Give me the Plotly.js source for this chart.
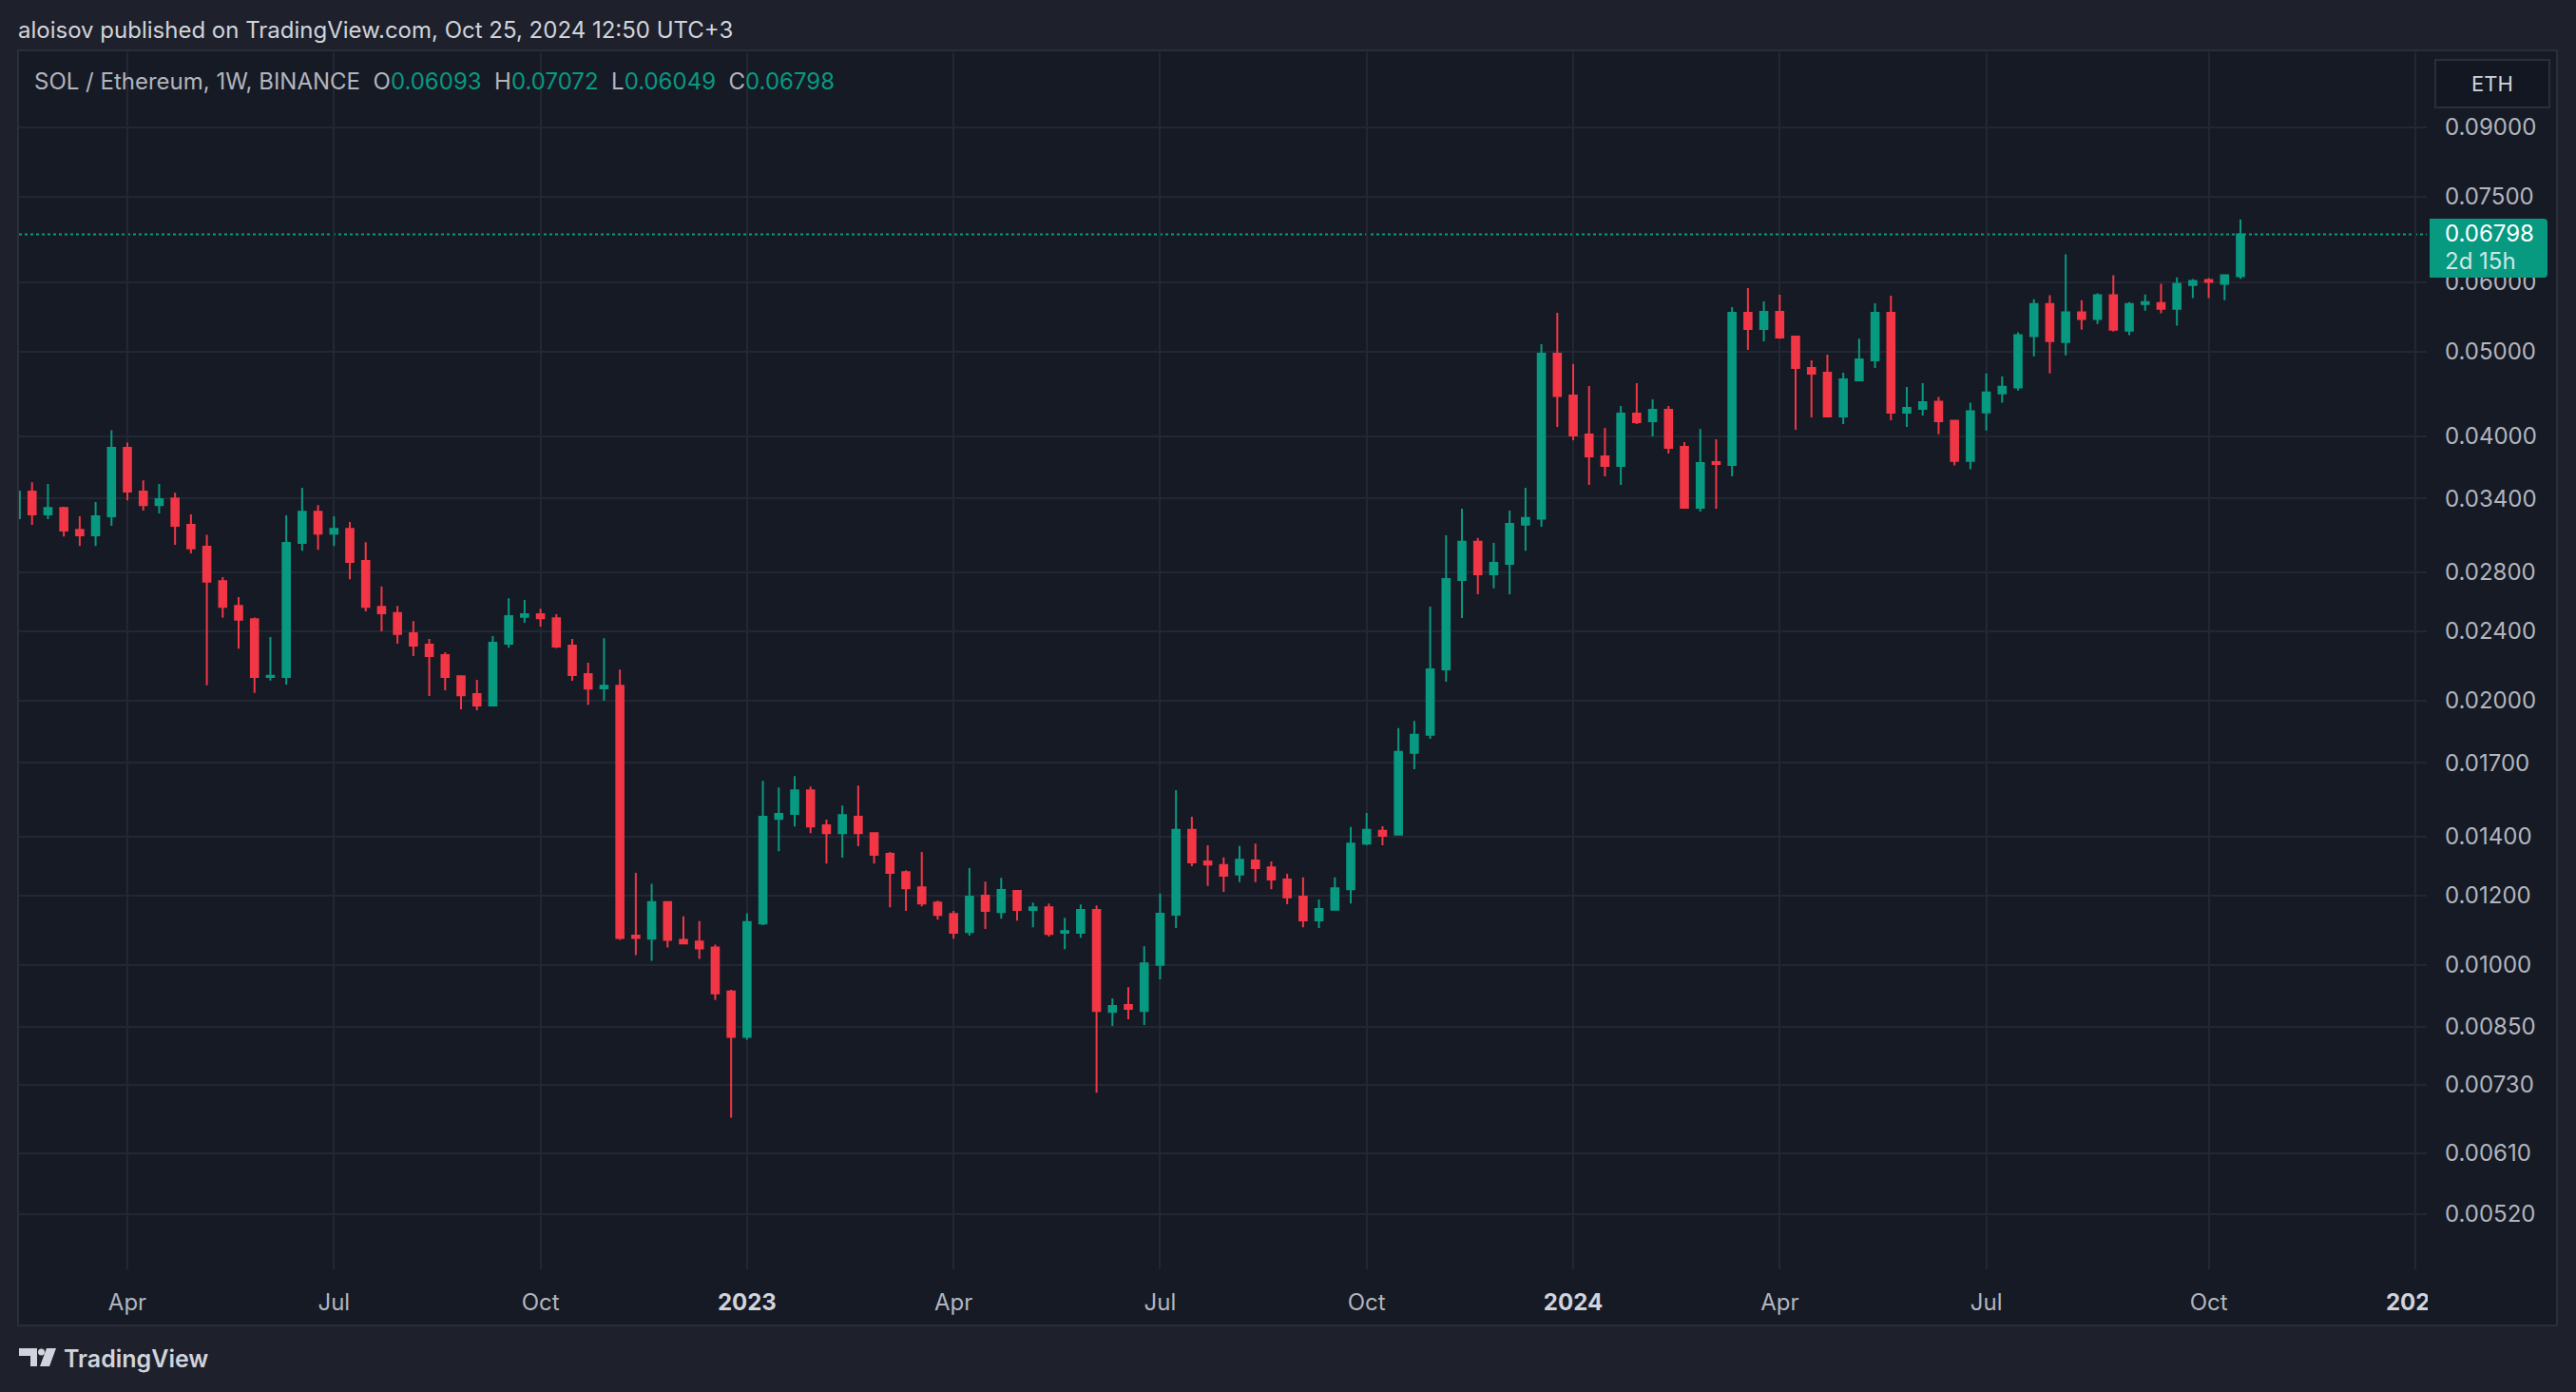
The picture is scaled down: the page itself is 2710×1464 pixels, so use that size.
<!DOCTYPE html>
<html><head><meta charset="utf-8">
<script src="https://cdn.plot.ly/plotly-3.0.1.min.js"></script>
<style>html,body{margin:0;padding:0;background:#1e212b;}#chart{width:2710px;height:1464px;}</style>
</head><body><div id="chart"></div>
<script>
// ---- data (weekly candles, SOL/ETH, BINANCE) ----
const firstWeek = '2022-02-14';
const openP = [0.03228,0.03461,0.0326,0.03317,0.03132,0.03086,0.03244,0.03882,0.03461,0.03342,
0.034,0.03172,0.02995,0.02737,0.02565,0.02477,0.02128,0.02128,0.03025,0.03284,
0.03101,0.0314,0.02885,0.02559,0.02518,0.02387,0.02317,0.02254,0.02133,0.02035,
0.01975,0.02322,0.02492,0.02509,0.02483,0.02311,0.02145,0.02066,0.0208,0.0108,
0.01071,0.01179,0.01068,0.01063,0.01047,0.00933,0.00828,0.01115,0.01467,0.01486,
0.01581,0.01442,0.01413,0.01475,0.01413,0.01338,0.01276,0.01226,0.01178,0.01143,
0.0109,0.01199,0.01149,0.01214,0.01155,0.01163,0.01088,0.01088,0.01155,0.00884,
0.009,0.00886,0.01,0.01141,0.01425,0.01312,0.013,0.01268,0.01315,0.01292,
0.01251,0.01196,0.01124,0.01156,0.0122,0.01375,0.01422,0.01408,0.01745,0.01829,
0.02171,0.02746,0.03036,0.02786,0.02865,0.03175,0.03225,0.04971,0.04454,0.04021,
0.03796,0.03704,0.04248,0.04164,0.04291,0.03893,0.03318,0.0374,0.03713,0.05534,
0.05304,0.05548,0.05199,0.04789,0.04729,0.04217,0.04635,0.04885,0.05534,0.04259,
0.04301,0.04381,0.04168,0.03753,0.04262,0.0448,0.04548,0.05204,0.05664,0.05126,
0.05539,0.05443,0.05793,0.05282,0.05664,0.05678,0.05594,0.05954,0.06029,0.05969,
0.06093];
const highP = [0.0350,0.03548,0.03531,0.03326,0.03244,0.03368,0.04067,0.03937,0.03566,0.03531,
0.03452,0.0326,0.03091,0.02765,0.02624,0.02488,0.02363,0.03252,0.03496,0.03342,
0.03244,0.03196,0.03032,0.02699,0.02565,0.02465,0.02352,0.02271,0.02133,0.02113,
0.02369,0.02617,0.02605,0.02546,0.02509,0.02352,0.02209,0.02356,0.0217,0.01273,
0.01237,0.0118,0.01136,0.01122,0.01055,0.00937,0.01145,0.01621,0.01593,0.01641,
0.01597,0.01464,0.01519,0.01601,0.01413,0.01345,0.01282,0.01345,0.01184,0.01152,
0.01289,0.01244,0.01257,0.01217,0.01178,0.01175,0.01132,0.01172,0.01169,0.00916,
0.00943,0.0105,0.01206,0.01582,0.01475,0.01369,0.01326,0.01366,0.01375,0.01312,
0.0127,0.01258,0.01187,0.01258,0.01436,0.0149,0.01439,0.01862,0.01897,0.0256,
0.03086,0.03311,0.03065,0.03025,0.03293,0.03497,0.05095,0.05534,0.04836,0.04567,
0.04092,0.04333,0.04601,0.0441,0.04333,0.03942,0.0408,0.03971,0.05617,0.05905,
0.05702,0.05803,0.05212,0.04885,0.04959,0.04729,0.0517,0.05674,0.05788,0.04556,
0.04601,0.04436,0.04168,0.0437,0.04721,0.04686,0.05256,0.05735,0.05793,0.06449,
0.05721,0.05822,0.06105,0.05692,0.05807,0.05969,0.06074,0.06044,0.06059,0.06105,
0.07072];
const lowP = [0.0320,0.03172,0.0322,0.03078,0.03002,0.03002,0.03164,0.03384,0.03293,0.03268,
0.0301,0.02943,0.02082,0.02486,0.02293,0.02041,0.02109,0.02086,0.02965,0.02972,
0.03002,0.02751,0.02528,0.024,0.02322,0.02248,0.02025,0.02055,0.01955,0.0195,
0.01975,0.02298,0.02454,0.02429,0.02295,0.02107,0.01979,0.02,0.01068,0.01026,
0.01011,0.01047,0.01058,0.01016,0.00912,0.0067,0.00822,0.0111,0.01348,0.01438,
0.01413,0.01305,0.01325,0.01365,0.01305,0.01163,0.01152,0.01166,0.01126,0.01071,
0.0108,0.01099,0.01129,0.01123,0.01104,0.01077,0.01042,0.01074,0.00715,0.00852,
0.00867,0.00854,0.00963,0.01102,0.01296,0.0123,0.01211,0.01243,0.01243,0.0122,
0.01173,0.01104,0.01102,0.01156,0.01175,0.01369,0.01369,0.01408,0.01671,0.0181,
0.02102,0.02484,0.02644,0.02686,0.02644,0.02965,0.03156,0.04102,0.03961,0.03523,
0.03603,0.03523,0.04133,0.04001,0.03825,0.03309,0.03285,0.03309,0.03603,0.05021,
0.05135,0.0517,0.04072,0.04206,0.04206,0.04133,0.04635,0.04789,0.04175,0.04102,
0.04227,0.04024,0.03707,0.0367,0.04065,0.0437,0.04514,0.04938,0.04721,0.0495,
0.05295,0.05375,0.05269,0.05217,0.05566,0.05525,0.05349,0.0575,0.0575,0.05721,
0.06049];
const closeP = [0.03461,0.0326,0.03317,0.03125,0.03086,0.03244,0.03882,0.03461,0.03342,0.03393,
0.03164,0.02983,0.02733,0.02559,0.02473,0.02128,0.02135,0.03025,0.03284,0.03101,
0.0314,0.02878,0.02559,0.02515,0.02383,0.02311,0.02248,0.02129,0.02029,0.01975,
0.02328,0.02497,0.02509,0.02483,0.02305,0.02139,0.02065,0.0208,0.01073,0.01073,
0.01179,0.01068,0.01058,0.01044,0.00928,0.00828,0.01119,0.01475,0.01486,0.01581,
0.01438,0.01413,0.01482,0.01413,0.01335,0.01273,0.01223,0.01175,0.0114,0.01088,
0.01196,0.01152,0.01217,0.01155,0.01163,0.01085,0.01093,0.01155,0.00886,0.00898,
0.00891,0.01004,0.01144,0.01425,0.01309,0.01301,0.01264,0.01318,0.01289,0.01251,
0.01194,0.01124,0.01158,0.01223,0.01375,0.01425,0.01403,0.01749,0.01829,0.02171,
0.02752,0.03036,0.02786,0.02871,0.03181,0.03231,0.04972,0.04447,0.04011,0.03796,
0.03704,0.04248,0.04154,0.04291,0.03883,0.03318,0.03731,0.03722,0.05534,0.05304,
0.05548,0.05186,0.04789,0.04717,0.04217,0.04647,0.04897,0.05534,0.04259,0.04312,
0.04377,0.04165,0.03753,0.04273,0.04491,0.04559,0.05217,0.05664,0.05139,0.05539,
0.05443,0.05793,0.05295,0.05664,0.05692,0.05594,0.05969,0.06014,0.05999,0.06105,
0.06798];

const yTickVals = [0.0052,0.0061,0.0073,0.0085,0.01,0.012,0.014,0.017,0.02,0.024,0.028,0.034,0.04,0.05,0.06,0.075,0.09];
const yTickText = yTickVals.map(v => v.toFixed(5));
const xTickVals = ['2022-04-04','2022-07-04','2022-10-03','2023-01-02','2023-04-03','2023-07-03','2023-10-02','2024-01-01','2024-04-01','2024-07-01','2024-10-07','2025-01-06'];
const xTickText = ['Apr','Jul','Oct','2023','Apr','Jul','Oct','2024','Apr','Jul','Oct','2025'];
const yearLabels = ['2023','2024','2025'];

const headerText = 'aloisov published on TradingView.com, Oct 25, 2024 12:50 UTC+3';
const symbolText = 'SOL / Ethereum, 1W, BINANCE';
const currency = 'ETH';
const countdown = '2d 15h';
const brand = 'TradingView';

// ---- weekly dates ----
const dates = [];
{
  const t0 = Date.parse(firstWeek + 'T00:00:00Z');
  for (let i = 0; i < closeP.length; i++) {
    dates.push(new Date(t0 + i * 7 * 86400000).toISOString().slice(0, 10));
  }
}

// ---- pixel helpers (page is 2710 x 1464) ----
const W = 2710, H = 1464;
const M = {l: 20, r: 157, t: 55, b: 129};
const PW = W - M.l - M.r, PH = H - M.t - M.b;
const px = x => (x - M.l) / PW;
const py = y => 1 - (y - M.t) / PH;

const GREEN = '#089981', RED = '#f23645';
const BG = '#161a25', FRAME = '#1e212b', GRID = '#232733', TXT = '#d1d4dc', AX = '#b2b5be';
const FONT = 'Inter, Roboto, "Liberation Sans", sans-serif';

const trace = {
  type: 'candlestick',
  x: dates, open: openP, high: highP, low: lowP, close: closeP,
  increasing: {line: {color: GREEN, width: 2}, fillcolor: GREEN},
  decreasing: {line: {color: RED, width: 2}, fillcolor: RED},
  whiskerwidth: 0,
  showlegend: false,
  hoverinfo: 'skip'
};

const n = closeP.length - 1;
const f5 = v => v.toFixed(5);
const val = v => '<span style="color:' + GREEN + '">' + f5(v) + '</span>';
const sp = '\u00a0\u00a0';
const legendText = symbolText + sp + 'O' + val(openP[n]) + sp + 'H' + val(highP[n]) + sp + 'L' + val(lowP[n]) + sp + 'C' + val(closeP[n]);

const tickText = xTickText.map(t => yearLabels.includes(t) ? '<b><span style="color:' + TXT + '">' + t + '</span></b>' : t);

// price label box with rounded right corners
const bx0 = 2556, bx1 = 2680, by0 = 230, by1 = 292, rr = 4;
const boxPath = 'M' + px(bx0) + ',' + py(by0) +
  ' L' + px(bx1 - rr) + ',' + py(by0) +
  ' Q' + px(bx1) + ',' + py(by0) + ' ' + px(bx1) + ',' + py(by0 + rr) +
  ' L' + px(bx1) + ',' + py(by1 - rr) +
  ' Q' + px(bx1) + ',' + py(by1) + ' ' + px(bx1 - rr) + ',' + py(by1) +
  ' L' + px(bx0) + ',' + py(by1) + ' Z';

const shapes = [
  // chart panel
  {type: 'rect', xref: 'paper', yref: 'paper', layer: 'below', x0: px(19), x1: px(2690), y0: py(1394), y1: py(53),
   fillcolor: BG, line: {color: '#2a2e39', width: 2}},
  // last price dotted line
  {type: 'line', xref: 'paper', yref: 'y', x0: 0, x1: 1, y0: closeP[n], y1: closeP[n],
   line: {color: GREEN, width: 2, dash: 'dot'}, layer: 'below'},
  // cover for clipped x label on the price scale
  {type: 'rect', xref: 'paper', yref: 'paper', layer: 'above', x0: px(2554), x1: px(2688), y0: py(1392), y1: py(1337),
   fillcolor: BG, line: {width: 0}},
  // price label box
  {type: 'path', xref: 'paper', yref: 'paper', layer: 'above', path: boxPath,
   fillcolor: GREEN, line: {width: 0}},
  // currency button
  {type: 'rect', xref: 'paper', yref: 'paper', layer: 'above', x0: px(2562), x1: px(2682), y0: py(113), y1: py(63),
   fillcolor: '#131722', line: {color: '#2a2e39', width: 2}},
  // logo
  {type: 'rect', xref: 'paper', yref: 'paper', layer: 'above', x0: px(20), x1: px(39), y0: py(1426), y1: py(1418),
   fillcolor: TXT, line: {width: 0}},
  {type: 'rect', xref: 'paper', yref: 'paper', layer: 'above', x0: px(32), x1: px(39), y0: py(1437), y1: py(1418),
   fillcolor: TXT, line: {width: 0}},
  {type: 'circle', xref: 'paper', yref: 'paper', layer: 'above', x0: px(40), x1: px(47), y0: py(1425.5), y1: py(1418.5),
   fillcolor: TXT, line: {width: 0}},
  {type: 'path', xref: 'paper', yref: 'paper', layer: 'above',
   path: 'M' + px(49) + ',' + py(1418) + ' L' + px(59) + ',' + py(1418) + ' L' + px(52) + ',' + py(1437) + ' L' + px(42) + ',' + py(1437) + ' Z',
   fillcolor: TXT, line: {width: 0}}
];

const ann = (text, x, y, opts) => Object.assign({
  text, xref: 'paper', yref: 'paper', x: px(x), y: py(y), xanchor: 'left', yanchor: 'middle',
  showarrow: false, font: {family: FONT, size: 24, color: TXT}, borderpad: 0
}, opts || {});

const annotations = [
  ann(headerText, 18, 32),
  ann(legendText, 35, 85, {font: {family: FONT, size: 24, color: AX}}),
  ann(currency, 2622, 88, {xanchor: 'center', font: {family: FONT, size: 22, color: TXT}}),
  ann(f5(closeP[n]), 2571, 246, {font: {family: FONT, size: 24, color: '#ffffff'}}),
  ann(countdown, 2571, 274, {font: {family: FONT, size: 24, color: 'rgba(255,255,255,0.8)'}}),
  ann(brand, 66, 1429, {font: {family: FONT, size: 25, color: TXT, weight: 600}})
];

const layout = {
  width: W, height: H,
  margin: M,
  paper_bgcolor: FRAME,
  plot_bgcolor: BG,
  font: {family: FONT, size: 24, color: AX},
  showlegend: false,
  xaxis: {
    type: 'date',
    range: ['2022-02-15 06:00', '2025-01-11 02:00'],
    rangeslider: {visible: false},
    tickmode: 'array', tickvals: xTickVals, ticktext: tickText,
    showgrid: true, gridcolor: GRID, gridwidth: 2,
    zeroline: false, showline: false, ticks: '',
    ticklabelstandoff: 18,
    tickfont: {family: FONT, size: 24, color: AX},
    fixedrange: true
  },
  yaxis: {
    type: 'log',
    side: 'right',
    range: [-2.34683, -0.96018],
    tickmode: 'array', tickvals: yTickVals, ticktext: yTickText,
    showgrid: true, gridcolor: GRID, gridwidth: 2,
    zeroline: false, showline: false, ticks: '',
    ticklabelstandoff: 18,
    tickfont: {family: FONT, size: 24, color: AX},
    fixedrange: true
  },
  boxgap: 0.35,
  shapes, annotations
};

Plotly.newPlot('chart', [trace], layout, {displayModeBar: false, staticPlot: true});
</script>
</body></html>
